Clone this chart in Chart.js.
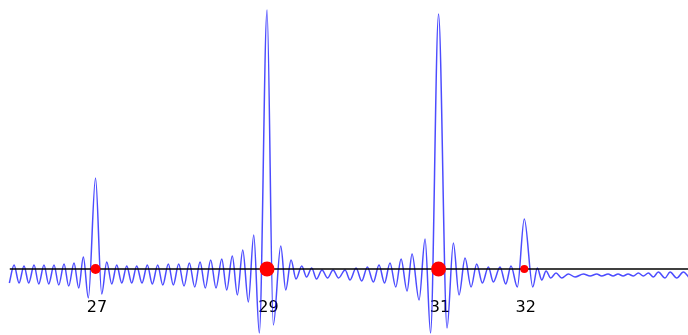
<!DOCTYPE html>
<html>
<head>
<meta charset="utf-8">
<script src="https://cdn.jsdelivr.net/npm/chart.js@4"></script>
<style>
  body { margin: 0; background: #fff; }
  canvas { display: block; }
</style>
</head>
<body>
<canvas id="myChart" width="688" height="335"></canvas>
<script>
// extrema of the oscillating curve
var curveX = [25.995, 26.050, 26.108, 26.166, 26.221, 26.283, 26.338, 26.399, 26.454, 26.516,
  26.571, 26.633, 26.687, 26.749, 26.804, 26.858, 26.916, 27.0, 27.072, 27.131,
  27.189, 27.247, 27.306, 27.364, 27.422, 27.480, 27.542, 27.604, 27.662, 27.725,
  27.784, 27.849, 27.907, 27.970, 28.032, 28.094, 28.157, 28.219, 28.280, 28.343,
  28.405, 28.472, 28.530, 28.595, 28.654, 28.717, 28.782, 28.845, 28.910, 29.0,
  29.073, 29.160, 29.218, 29.280, 29.338, 29.405, 29.461, 29.521, 29.577, 29.641,
  29.706, 29.770, 29.834, 29.910, 29.968, 30.038, 30.104, 30.170, 30.240, 30.306,
  30.370, 30.434, 30.501, 30.563, 30.633, 30.691, 30.773, 30.843, 30.907, 31.0,
  31.099, 31.173, 31.239, 31.309, 31.379, 31.445, 31.511, 31.581, 31.639, 31.717,
  31.784, 31.845, 31.919, 32.0, 32.099, 32.152, 32.204, 32.254, 32.308, 32.370,
  32.437, 32.514, 32.592, 32.689, 32.767, 32.845, 32.903, 32.977, 33.035, 33.093,
  33.152, 33.210, 33.272, 33.330, 33.388, 33.447, 33.505, 33.563, 33.641, 33.700,
  33.778, 33.855, 33.933];
var curveY = [-0.14, 0.04, -0.14, 0.03, -0.14, 0.04, -0.15, 0.04, -0.15, 0.04,
  -0.16, 0.05, -0.17, 0.06, -0.19, 0.12, -0.29, 0.91, -0.25, 0.07,
  -0.15, 0.04, -0.14, 0.03, -0.14, 0.03, -0.14, 0.04, -0.15, 0.04,
  -0.16, 0.05, -0.16, 0.05, -0.17, 0.06, -0.18, 0.07, -0.19, 0.09,
  -0.19, 0.10, -0.21, 0.13, -0.26, 0.19, -0.33, 0.34, -0.64, 2.59,
  -0.56, 0.23, -0.21, 0.09, -0.10, 0.03, -0.08, 0.01, -0.10, -0.01,
  -0.09, -0.01, -0.09, -0.01, -0.11, 0.01, -0.12, 0.02, -0.13, 0.04,
  -0.14, 0.06, -0.18, 0.10, -0.22, 0.15, -0.31, 0.30, -0.64, 2.55,
  -0.59, 0.26, -0.26, 0.11, -0.18, 0.05, -0.14, 0.02, -0.13, 0.02,
  -0.15, 0.03, -0.18, 0.50, -0.18, 0.01, -0.11, -0.02, -0.09, -0.04,
  -0.09, -0.05, -0.08, -0.05, -0.07, -0.05, -0.07, -0.05, -0.07, -0.05,
  -0.07, -0.05, -0.07, -0.04, -0.07, -0.04, -0.08, -0.03, -0.09, -0.03,
  -0.09, -0.03, -0.10];

// prime powers marked on the axis
var primePowers = [27, 29, 31, 32];
var tickValues = [27, 29, 31, 32];
var axisRange = [26, 34];

var curveData = curveX.map(function(x, i) { return { x: x, y: curveY[i] }; });
var dotData = primePowers.map(function(p) { return { x: p, y: 0 }; });
var axisData = axisRange.map(function(x) { return { x: x, y: 0 }; });

var ctx = document.getElementById('myChart').getContext('2d');
var myChart = new Chart(ctx, {
  type: 'scatter',
  data: {
    datasets: [
      {
        label: 'prime powers',
        data: dotData,
        order: 0,
        backgroundColor: '#ff0000',
        borderWidth: 0,
        pointRadius: [5, 7.5, 7.5, 4], // plus gros pour 29 et 31
        clip: false
      },
      {
        label: 'axis',
        data: axisData,
        showLine: true,
        order: 1,
        borderColor: '#000000',
        borderWidth: 1.5,
        pointRadius: 0,
        clip: false
      },
      {
        label: 'curve',
        data: curveData,
        showLine: true,
        order: 2,
        borderColor: 'rgba(0, 0, 255, 0.7)',
        borderWidth: 1.5,
        pointRadius: 0,
        cubicInterpolationMode: 'monotone',
        clip: false
      }
    ]
  },
  options: {
    responsive: false,
    animation: false,
    devicePixelRatio: 1,
    layout: { padding: 0, autoPadding: false },
    plugins: {
      legend: { display: false },
      tooltip: { enabled: false }
    },
    scales: {
      x: {
        type: 'linear',
        position: { y: 0 },
        min: 25.886,
        max: 33.909,
        grid: { display: false, drawTicks: false },
        border: { display: false },
        afterBuildTicks: function(scale) {
          scale.ticks = tickValues.map(function(v) { return { value: v }; });
        },
        ticks: {
          autoSkip: false,
          maxRotation: 0,
          padding: 29,
          labelOffset: 1.5,
          color: '#000',
          font: { family: 'DejaVu Sans', size: 16 }
        }
      },
      y: {
        display: false,
        min: -0.66,
        max: 2.69
      }
    }
  }
});
</script>
</body>
</html>
